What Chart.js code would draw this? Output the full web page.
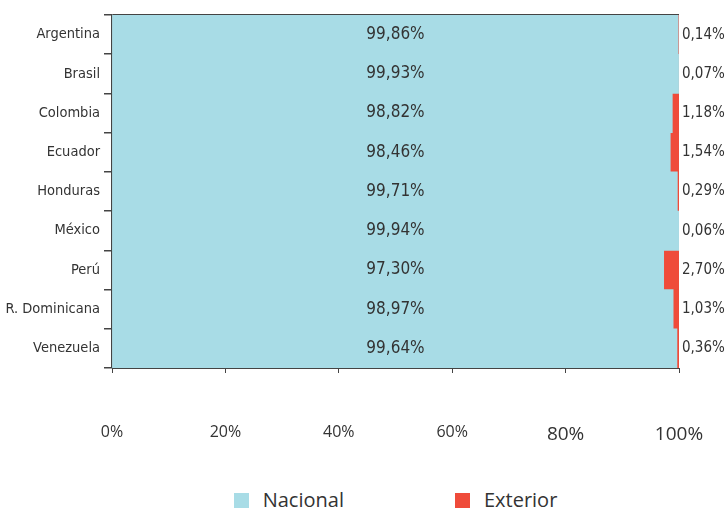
<!DOCTYPE html>
<html><head><meta charset="utf-8">
<script src="https://cdn.jsdelivr.net/npm/chart.js@4"></script>
<style>
html,body{margin:0;padding:0;background:#fff;}
#wrap{position:relative;width:728px;height:510px;overflow:hidden;}
#c{position:absolute;left:0;top:0;}
#legend{position:absolute;top:488px;display:flex;justify-content:center;align-items:center;font-family:'Open Sans',sans-serif;font-size:20px;color:#333;line-height:24px;}
.item{display:flex;align-items:center;}
.box{width:15px;height:15px;margin-right:14px;}
</style></head>
<body><div id="wrap"><canvas id="c" width="728" height="475"></canvas><div id="legend"></div></div>
<script>
const categories = ['Argentina','Brasil','Colombia','Ecuador','Honduras','México','Perú','R. Dominicana','Venezuela'];
const nacional = [99.86, 99.93, 98.82, 98.46, 99.71, 99.94, 97.30, 98.97, 99.64];
const exterior = [0.14, 0.07, 1.18, 1.54, 0.29, 0.06, 2.70, 1.03, 0.36];
const seriesNames = ['Nacional', 'Exterior'];
const seriesColors = ['#A8DCE6', '#EF4B3A'];
const tickStep = 20;

const fmt = v => v.toFixed(2).replace('.', ',') + '%';
const narrow = '"DejaVu Sans Condensed", "DejaVu Sans", sans-serif';

const labelPlugin = {
  id: 'valLabels',
  afterDatasetsDraw(chart) {
    const {ctx, scales: {x, y}} = chart;
    ctx.save();
    ctx.fillStyle = '#333';
    ctx.textBaseline = 'middle';
    categories.forEach((c, i) => {
      const yy = y.getPixelForValue(i);
      ctx.font = '17px ' + narrow;
      ctx.textAlign = 'center';
      ctx.fillText(fmt(nacional[i]), x.getPixelForValue(50), yy);
      ctx.font = '15px ' + narrow;
      ctx.textAlign = 'left';
      ctx.fillText(fmt(exterior[i]), x.getPixelForValue(100) + 3, yy);
    });
    ctx.restore();
  }
};

const chart = new Chart(document.getElementById('c'), {
  type: 'bar',
  data: {
    labels: categories,
    datasets: [
      {label: seriesNames[0], data: nacional, backgroundColor: seriesColors[0], borderWidth: 0, categoryPercentage: 1, barPercentage: 1},
      {label: seriesNames[1], data: exterior, backgroundColor: seriesColors[1], borderWidth: 0, categoryPercentage: 1, barPercentage: 1}
    ]
  },
  options: {
    indexAxis: 'y',
    responsive: false,
    animation: false,
    devicePixelRatio: 1,
    layout: {padding: {top: 15, right: 49, left: 0, bottom: 0}},
    plugins: {legend: {display: false}, tooltip: {enabled: false}},
    scales: {
      x: {
        stacked: true, min: 0, max: 100,
        ticks: {
          stepSize: tickStep,
          padding: 50,
          color: '#333',
          callback: v => v + '%',
          font: c => ({family: '"Open Sans", sans-serif', size: (c.tick && c.tick.value >= 80) ? 19 : 16})
        },
        grid: {drawOnChartArea: false, drawTicks: true, tickLength: 5, color: '#444', lineWidth: 1},
        border: {display: true, color: '#444', width: 1},
        afterFit: s => { s.height = 107; s.paddingLeft = 0; s.paddingRight = 0; }
      },
      y: {
        stacked: true,
        ticks: {color: '#333', padding: 4, font: {family: narrow, size: 14.5}},
        grid: {offset: true, drawOnChartArea: true, tickLength: 8, color: '#444', lineWidth: 1.5},
        border: {display: true, color: '#444', width: 1.5},
        afterFit: s => { s.width = 112; }
      }
    }
  },
  plugins: [labelPlugin]
});

const lg = document.getElementById('legend');
const area = chart.chartArea;
lg.style.left = area.left + 'px';
lg.style.width = (area.right - area.left) + 'px';
seriesNames.forEach((n, i) => {
  const it = document.createElement('div');
  it.className = 'item';
  if (i > 0) it.style.marginLeft = '111px';
  const b = document.createElement('div');
  b.className = 'box';
  b.style.background = chart.data.datasets[i].backgroundColor;
  const t = document.createElement('span');
  t.textContent = n;
  it.appendChild(b); it.appendChild(t);
  lg.appendChild(it);
});
</script>
</body></html>
